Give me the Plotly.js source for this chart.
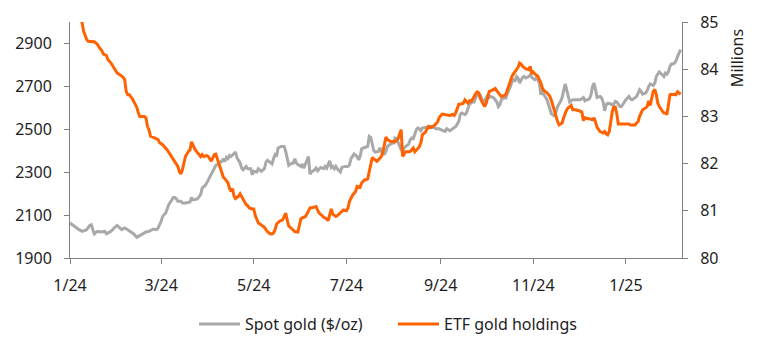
<!DOCTYPE html>
<html>
<head>
<meta charset="utf-8">
<script src="https://cdn.plot.ly/plotly-3.0.1.min.js"></script>
<style>html,body{margin:0;padding:0;background:#fff;}#chart{width:773px;height:354px;}</style>
</head>
<body>
<div id="chart"></div>
<script>
const seriesNames = ['Spot gold ($/oz)', 'ETF gold holdings'];
const xTickFormat = '%-m/%y';
const goldTicks = [1900, 2100, 2300, 2500, 2700, 2900];
const etfTicks = [80, 81, 82, 83, 84, 85];
const rightAxisTitle = 'Millions';

const goldDates = [
'2024-01-01','2024-01-03','2024-01-05','2024-01-07','2024-01-09','2024-01-12','2024-01-14','2024-01-15','2024-01-17','2024-01-19','2024-01-21','2024-01-24','2024-01-25','2024-01-28','2024-01-30',
'2024-02-01','2024-02-04','2024-02-06','2024-02-08','2024-02-10','2024-02-12','2024-02-14','2024-02-16','2024-02-18','2024-02-20','2024-02-22','2024-02-25','2024-02-27','2024-02-28',
'2024-03-01','2024-03-02','2024-03-04','2024-03-05','2024-03-06','2024-03-08','2024-03-09','2024-03-10','2024-03-11','2024-03-12','2024-03-14','2024-03-15','2024-03-17','2024-03-20','2024-03-21','2024-03-22','2024-03-23','2024-03-25','2024-03-27','2024-03-28','2024-03-30','2024-03-31',
'2024-04-02','2024-04-03','2024-04-04','2024-04-05','2024-04-06','2024-04-07','2024-04-08','2024-04-10','2024-04-11','2024-04-12','2024-04-13','2024-04-14','2024-04-15','2024-04-16','2024-04-17','2024-04-18','2024-04-19','2024-04-20','2024-04-22','2024-04-23','2024-04-24','2024-04-26','2024-04-27','2024-04-29','2024-04-30',
'2024-05-01','2024-05-03','2024-05-04','2024-05-06','2024-05-08','2024-05-09','2024-05-10','2024-05-11','2024-05-13','2024-05-14','2024-05-15','2024-05-16','2024-05-17','2024-05-19','2024-05-21','2024-05-22','2024-05-23','2024-05-24','2024-05-25','2024-05-27','2024-05-28','2024-05-29','2024-05-30',
'2024-06-01','2024-06-02','2024-06-03','2024-06-04','2024-06-05','2024-06-06','2024-06-07','2024-06-08','2024-06-10','2024-06-11','2024-06-12','2024-06-13','2024-06-14','2024-06-16','2024-06-17','2024-06-18','2024-06-20','2024-06-21','2024-06-22','2024-06-23','2024-06-24','2024-06-25','2024-06-27','2024-06-28','2024-06-30',
'2024-07-02','2024-07-03','2024-07-04','2024-07-06','2024-07-08','2024-07-09','2024-07-10','2024-07-11','2024-07-13','2024-07-15','2024-07-16','2024-07-17','2024-07-18','2024-07-19','2024-07-20','2024-07-22','2024-07-23','2024-07-24','2024-07-25','2024-07-26','2024-07-27','2024-07-28','2024-07-30','2024-07-31',
'2024-08-01','2024-08-02','2024-08-03','2024-08-04','2024-08-05','2024-08-06','2024-08-07','2024-08-08','2024-08-09','2024-08-11','2024-08-12','2024-08-13','2024-08-14','2024-08-15','2024-08-16','2024-08-17','2024-08-18','2024-08-19','2024-08-20','2024-08-22','2024-08-23','2024-08-25','2024-08-26','2024-08-28','2024-08-29','2024-08-31',
'2024-09-01','2024-09-03','2024-09-04','2024-09-05','2024-09-07','2024-09-08','2024-09-10','2024-09-11','2024-09-13','2024-09-14','2024-09-15','2024-09-17','2024-09-18','2024-09-19','2024-09-20','2024-09-22','2024-09-23','2024-09-24','2024-09-25','2024-09-27','2024-09-28','2024-09-29','2024-09-30',
'2024-10-01','2024-10-02','2024-10-03','2024-10-04','2024-10-06','2024-10-07','2024-10-08','2024-10-09','2024-10-10','2024-10-11','2024-10-12','2024-10-13','2024-10-14','2024-10-15','2024-10-17','2024-10-18','2024-10-19','2024-10-20','2024-10-21','2024-10-22','2024-10-23','2024-10-24','2024-10-25','2024-10-26','2024-10-27','2024-10-29','2024-10-30','2024-10-31',
'2024-11-01','2024-11-02','2024-11-03','2024-11-04','2024-11-05','2024-11-06','2024-11-07','2024-11-08','2024-11-10','2024-11-11','2024-11-12','2024-11-13','2024-11-14','2024-11-15','2024-11-16','2024-11-17','2024-11-19','2024-11-20','2024-11-21','2024-11-22','2024-11-23','2024-11-24','2024-11-25','2024-11-26','2024-11-27','2024-11-29',
'2024-12-01','2024-12-02','2024-12-04','2024-12-05','2024-12-06','2024-12-07','2024-12-08','2024-12-09','2024-12-10','2024-12-11','2024-12-12','2024-12-13','2024-12-15','2024-12-16','2024-12-17','2024-12-18','2024-12-19','2024-12-20','2024-12-22','2024-12-23','2024-12-24','2024-12-25','2024-12-26','2024-12-27','2024-12-28','2024-12-29','2024-12-30','2024-12-31',
'2025-01-01','2025-01-03','2025-01-04','2025-01-05','2025-01-06','2025-01-07','2025-01-08','2025-01-09','2025-01-10','2025-01-11','2025-01-12','2025-01-14','2025-01-15','2025-01-16','2025-01-17','2025-01-18','2025-01-19','2025-01-20','2025-01-21','2025-01-22','2025-01-23','2025-01-25','2025-01-26','2025-01-27','2025-01-28','2025-01-29','2025-01-30','2025-01-31',
'2025-02-01','2025-02-02','2025-02-03','2025-02-04','2025-02-05','2025-02-06'
];
const goldPrice = [
2063,2052,2040,2032,2024,2032,2052,2055,2012,2024,2021,2024,2013,2024,2040,
2052,2032,2040,2032,2021,2012,1996,2005,2016,2021,2024,2035,2032,2040,
2071,2094,2110,2133,2148,2170,2182,2182,2176,2164,2164,2156,2156,2161,2182,2172,2172,2176,2195,2226,2238,2249,
2273,2291,2304,2316,2332,2335,2343,2350,2363,2350,2369,2363,2378,2373,2381,2385,2394,2366,2343,2319,2311,2327,2316,2316,2288,
2304,2301,2316,2304,2316,2347,2355,2350,2338,2363,2381,2373,2413,2420,2420,2397,2366,2332,2338,2343,2363,2343,2335,
2327,2338,2319,2338,2353,2373,2291,2301,2311,2319,2307,2316,2322,2316,2327,2319,2353,2322,2327,2316,2327,2316,2301,2322,2327,
2327,2335,2363,2385,2373,2358,2373,2409,2415,2420,2467,2462,2430,2400,2394,2397,2413,2397,2385,2385,2397,2420,2431,2436,
2436,2459,2456,2436,2420,2405,2397,2413,2420,2431,2451,2459,2456,2475,2498,2506,2503,2493,2506,2509,2506,2509,2513,2506,2503,2503,
2498,2493,2490,2503,2493,2498,2506,2513,2537,2571,2576,2568,2576,2599,2618,2627,2627,2646,2661,2661,2642,2627,2633,
2646,2658,2648,2653,2646,2633,2627,2606,2614,2638,2642,2648,2646,2669,2700,2723,2731,2723,2746,2739,2715,2726,2742,2746,2739,2746,2754,2742,
2735,2731,2739,2731,2715,2661,2684,2661,2638,2614,2591,2571,2568,2560,2583,2606,2630,2648,2680,2711,2684,2650,2627,2633,2638,2638,
2638,2638,2648,2633,2638,2638,2642,2661,2700,2715,2684,2648,2653,2646,2627,2586,2614,2622,2618,2614,2618,2630,2627,2614,2606,2606,2614,2627,
2638,2653,2642,2638,2642,2646,2653,2669,2684,2676,2664,2669,2680,2700,2711,2708,2704,2715,2746,2757,2767,2754,2746,2762,2757,2769,2793,2804,
2804,2809,2819,2839,2860,2871
];

const etfDates = [
'2024-01-01','2024-01-08','2024-01-09','2024-01-10','2024-01-12','2024-01-13','2024-01-15','2024-01-17','2024-01-19','2024-01-20','2024-01-22','2024-01-23','2024-01-25','2024-01-26','2024-01-28','2024-01-29','2024-01-31',
'2024-02-01','2024-02-03','2024-02-05','2024-02-06','2024-02-07','2024-02-08','2024-02-09','2024-02-11','2024-02-12','2024-02-14','2024-02-15','2024-02-16','2024-02-19','2024-02-20','2024-02-21','2024-02-22','2024-02-23','2024-02-25','2024-02-26','2024-02-28','2024-02-29',
'2024-03-02','2024-03-04','2024-03-05','2024-03-07','2024-03-09','2024-03-10','2024-03-12','2024-03-13','2024-03-14','2024-03-15','2024-03-16','2024-03-17','2024-03-19','2024-03-20','2024-03-21','2024-03-22','2024-03-23','2024-03-24','2024-03-26','2024-03-27','2024-03-28','2024-03-29','2024-03-31',
'2024-04-01','2024-04-03','2024-04-04','2024-04-05','2024-04-06','2024-04-07','2024-04-08','2024-04-09','2024-04-11','2024-04-12','2024-04-14','2024-04-15','2024-04-16','2024-04-17','2024-04-18','2024-04-19','2024-04-21','2024-04-22','2024-04-24','2024-04-25','2024-04-26','2024-04-27','2024-04-28','2024-04-30',
'2024-05-01','2024-05-02','2024-05-04','2024-05-06','2024-05-07','2024-05-08','2024-05-09','2024-05-10','2024-05-12','2024-05-13','2024-05-14','2024-05-15','2024-05-16','2024-05-18','2024-05-20','2024-05-21','2024-05-22','2024-05-23','2024-05-24','2024-05-26','2024-05-27','2024-05-28','2024-05-30','2024-05-31',
'2024-06-01','2024-06-02','2024-06-04','2024-06-05','2024-06-06','2024-06-07','2024-06-09','2024-06-11','2024-06-12','2024-06-13','2024-06-15','2024-06-16','2024-06-18','2024-06-19','2024-06-20','2024-06-21','2024-06-22','2024-06-24','2024-06-25','2024-06-27','2024-06-28','2024-06-29',
'2024-07-01','2024-07-02','2024-07-03','2024-07-04','2024-07-05','2024-07-07','2024-07-08','2024-07-10','2024-07-11','2024-07-13','2024-07-14','2024-07-15','2024-07-16','2024-07-17','2024-07-18','2024-07-19','2024-07-21','2024-07-22','2024-07-24','2024-07-25','2024-07-26','2024-07-27','2024-07-28','2024-07-30','2024-07-31',
'2024-08-02','2024-08-04','2024-08-05','2024-08-06','2024-08-07','2024-08-09','2024-08-11','2024-08-12','2024-08-14','2024-08-15','2024-08-17','2024-08-18','2024-08-19','2024-08-20','2024-08-22','2024-08-23','2024-08-24','2024-08-26','2024-08-27','2024-08-28','2024-08-30','2024-08-31',
'2024-09-02','2024-09-04','2024-09-05','2024-09-07','2024-09-09','2024-09-10','2024-09-11','2024-09-12','2024-09-13','2024-09-14','2024-09-16','2024-09-17','2024-09-18','2024-09-19','2024-09-20','2024-09-21','2024-09-22','2024-09-23','2024-09-24','2024-09-25','2024-09-26','2024-09-27','2024-09-28','2024-09-29','2024-09-30',
'2024-10-01','2024-10-02','2024-10-03','2024-10-04','2024-10-06','2024-10-07','2024-10-08','2024-10-09','2024-10-10','2024-10-11','2024-10-12','2024-10-13','2024-10-14','2024-10-15','2024-10-17','2024-10-18','2024-10-19','2024-10-20','2024-10-21','2024-10-22','2024-10-23','2024-10-24','2024-10-25','2024-10-26','2024-10-27','2024-10-29','2024-10-30','2024-10-31',
'2024-11-01','2024-11-02','2024-11-03','2024-11-04','2024-11-05','2024-11-06','2024-11-07','2024-11-08','2024-11-10','2024-11-11','2024-11-12','2024-11-13','2024-11-14','2024-11-15','2024-11-16','2024-11-17','2024-11-18','2024-11-20','2024-11-21','2024-11-22','2024-11-23','2024-11-24','2024-11-25','2024-11-26','2024-11-27','2024-11-29',
'2024-12-01','2024-12-02','2024-12-03','2024-12-04','2024-12-05','2024-12-07','2024-12-08','2024-12-10','2024-12-11','2024-12-12','2024-12-13','2024-12-15','2024-12-16','2024-12-17','2024-12-18','2024-12-19','2024-12-20','2024-12-21','2024-12-22','2024-12-23','2024-12-24','2024-12-25','2024-12-26','2024-12-27','2024-12-29','2024-12-30',
'2025-01-01','2025-01-03','2025-01-04','2025-01-06','2025-01-07','2025-01-08','2025-01-09','2025-01-10','2025-01-11','2025-01-12','2025-01-14','2025-01-15','2025-01-16','2025-01-17','2025-01-18','2025-01-19','2025-01-20','2025-01-21','2025-01-22','2025-01-23','2025-01-25','2025-01-26','2025-01-27','2025-01-28','2025-01-29','2025-01-30','2025-01-31',
'2025-02-01','2025-02-02','2025-02-03','2025-02-04','2025-02-05','2025-02-06'
];
const etfHoldings = [
85.8,85.05,84.98,84.80,84.63,84.59,84.59,84.58,84.53,84.47,84.39,84.32,84.29,84.20,84.13,84.08,83.99,
83.92,83.88,83.83,83.78,83.53,83.46,83.46,83.38,83.31,83.19,83.07,83.00,83.00,82.97,82.79,82.72,82.58,82.56,82.54,82.51,82.44,
82.40,82.34,82.29,82.19,82.10,82.05,81.94,81.83,81.78,81.87,82.05,82.15,82.26,82.29,82.46,82.38,82.32,82.27,82.20,82.15,82.19,82.15,82.17,
82.15,82.05,82.13,82.19,82.20,82.10,81.98,81.87,81.71,81.68,81.59,81.48,81.41,81.47,81.31,81.26,81.31,81.36,81.24,81.20,81.13,81.11,81.06,81.04,
81.04,80.90,80.74,80.70,80.68,80.65,80.60,80.56,80.51,80.51,80.53,80.60,80.72,80.78,80.81,80.88,80.95,80.80,80.68,80.62,80.58,80.56,80.55,80.70,
80.83,80.85,80.88,80.93,81.00,81.06,81.07,81.09,81.02,80.95,80.90,80.86,80.83,80.79,80.92,81.04,80.93,80.88,80.90,80.95,80.99,81.02,
81.00,81.06,81.20,81.26,81.33,81.41,81.52,81.50,81.59,81.66,81.66,81.68,81.83,82.05,82.13,82.10,82.05,82.08,82.15,82.25,82.44,82.56,82.51,82.47,82.47,
82.46,82.53,82.61,82.72,82.15,82.25,82.25,82.26,82.33,82.25,82.32,82.36,82.44,82.61,82.67,82.74,82.79,82.77,82.79,82.81,82.88,82.97,
83.05,83.04,83.04,83.02,83.04,83.02,83.08,83.20,83.26,83.26,83.28,83.35,83.31,83.28,83.33,83.32,83.36,83.43,83.48,83.52,83.50,83.39,83.31,83.26,83.21,
83.28,83.40,83.53,83.54,83.57,83.59,83.54,83.50,83.44,83.42,83.44,83.44,83.47,83.57,83.74,83.85,83.90,83.94,83.99,84.04,84.13,84.11,84.06,84.04,84.01,83.99,84.06,83.90,
83.94,83.90,83.88,83.85,83.78,83.71,83.60,83.55,83.50,83.46,83.42,83.33,83.21,83.14,83.00,82.89,82.82,82.86,82.97,83.07,83.14,83.18,83.21,83.23,83.14,83.14,
83.12,83.11,83.09,82.91,82.97,82.95,82.95,82.93,82.97,82.88,82.77,82.68,82.67,82.65,82.68,82.63,82.61,82.68,82.88,83.10,83.20,83.20,83.05,82.84,82.84,82.84,
82.84,82.84,82.82,82.81,82.82,82.86,82.89,83.00,83.07,83.14,83.18,83.21,83.33,83.23,83.39,83.53,83.57,83.46,83.28,83.21,83.11,83.07,83.07,83.04,83.25,83.46,83.47,
83.46,83.47,83.46,83.52,83.50,83.47
];

const axisColor = '#808080';
const textColor = '#1e1e1e';
const fontFamily = '"Noto Sans", "Open Sans", sans-serif';

const traces = [
  {
    x: goldDates, y: goldPrice, name: seriesNames[0], type: 'scatter', mode: 'lines',
    line: {color: '#a9a9a9', width: 3}, yaxis: 'y'
  },
  {
    x: etfDates, y: etfHoldings, name: seriesNames[1], type: 'scatter', mode: 'lines',
    line: {color: '#ff6200', width: 3}, yaxis: 'y2'
  }
];

const axisCommon = {
  showline: true, linecolor: axisColor, linewidth: 1,
  ticks: 'outside', ticklen: 5, tickcolor: axisColor, tickwidth: 1,
  showgrid: false, zeroline: false,
  tickfont: {family: fontFamily, size: 16, color: textColor}
};

const layout = {
  width: 773, height: 354,
  margin: {l: 70, r: 91, t: 22, b: 96},
  paper_bgcolor: '#ffffff', plot_bgcolor: '#ffffff',
  font: {family: fontFamily, size: 16, color: textColor},
  showlegend: true,
  legend: {
    orientation: 'h', x: 0.2026, xanchor: 'left', y: -0.28, yanchor: 'middle',
    font: {family: fontFamily, size: 16, color: textColor},
    itemwidth: 41, entrywidth: 143, entrywidthmode: 'pixels',
    bgcolor: 'rgba(0,0,0,0)'
  },
  xaxis: Object.assign({}, axisCommon, {
    type: 'date',
    range: ['2024-01-01', '2025-02-06 22:00'],
    tick0: '2024-01-01', dtick: 'M2', tickformat: xTickFormat,
    ticklabelstandoff: 8
  }),
  yaxis: Object.assign({}, axisCommon, {
    range: [1900, 3000], tickvals: goldTicks, ticktext: goldTicks.map(String),
    ticklabelstandoff: 9
  }),
  yaxis2: Object.assign({}, axisCommon, {
    range: [80, 85], tickvals: etfTicks, ticktext: etfTicks.map(String),
    overlaying: 'y', side: 'right', anchor: 'x',
    ticklabelstandoff: 9
  }),
  annotations: [{
    text: rightAxisTitle, xref: 'paper', yref: 'paper', x: 1.0899, y: 0.847,
    xanchor: 'center', yanchor: 'middle', textangle: -90, showarrow: false,
    font: {family: fontFamily, size: 16, color: textColor}
  }]
};

Plotly.newPlot('chart', traces, layout, {displayModeBar: false, staticPlot: true});
</script>
</body>
</html>
